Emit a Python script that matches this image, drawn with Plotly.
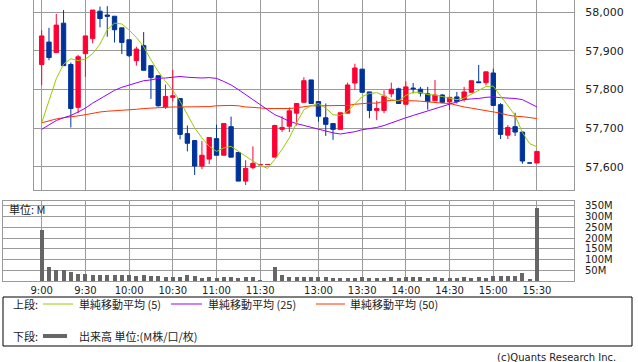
import plotly.graph_objects as go

times = ["9:00","9:05","9:10","9:15","9:20","9:25","9:30","9:35","9:40","9:45",
         "9:50","9:55","10:00","10:05","10:10","10:15","10:20","10:25","10:30","10:35",
         "10:40","10:45","10:50","10:55","11:00","11:05","11:10","11:15","11:20","11:25",
         "11:30","12:25","12:30","12:35","12:40","12:45","12:50","12:55","13:00","13:05",
         "13:10","13:15","13:20","13:25","13:30","13:35","13:40","13:45","13:50","13:55",
         "14:00","14:05","14:10","14:15","14:20","14:25","14:30","14:35","14:40","14:45",
         "14:50","14:55","15:00","15:05","15:10","15:15","15:20","15:25","15:30"]

open_ = [57865,57923,57896,57972,57865,57754,57893,57932,58003,57993,
         57990,57960,57929,57875,57914,57862,57836,57755,57780,57777,
         57686,57668,57602,57620,57673,57630,57704,57637,57563,57598,
         57605,57606,57625,57697,57705,57739,57767,57825,57769,57727,
         57712,57697,57739,57817,57853,57794,57746,57746,57789,57802,
         57762,57804,57801,57789,57771,57786,57768,57781,57775,57793,
         57820,57818,57843,57761,57682,57704,57690,57610,57610]
high = [57954,57960,57996,58006,57870,57890,57939,58006,58015,58016,
        57990,57960,57929,57911,57949,57862,57836,57813,57851,57777,
        57707,57668,57667,57676,57709,57712,57730,57637,57617,57653,
        57606,57606,57709,57731,57754,57764,57832,57825,57769,57764,
        57712,57740,57818,57867,57853,57794,57771,57798,57818,57805,
        57821,57817,57807,57807,57825,57788,57780,57794,57807,57823,
        57864,57846,57854,57765,57708,57740,57691,57610,57640]
low = [57812,57876,57896,57862,57702,57739,57833,57920,57961,57937,
       57922,57892,57884,57862,57850,57776,57756,57750,57770,57671,
       57640,57579,57594,57607,57630,57630,57625,57563,57553,57594,
       57605,57606,57625,57690,57690,57707,57767,57764,57717,57680,
       57670,57697,57739,57800,57793,57726,57721,57739,57780,57764,
       57762,57790,57782,57748,57771,57765,57747,57764,57769,57793,
       57818,57811,57759,57672,57672,57680,57608,57610,57610]
close = [57939,57883,57967,57862,57751,57885,57939,58006,57984,57990,
         57955,57922,57888,57905,57850,57831,57758,57782,57784,57684,
         57661,57602,57630,57676,57630,57712,57625,57563,57596,57609,
         57606,57606,57707,57702,57745,57764,57823,57764,57731,57710,
         57697,57740,57812,57856,57793,57746,57751,57783,57801,57764,
         57807,57802,57791,57769,57786,57767,57780,57769,57794,57823,
         57818,57846,57759,57684,57702,57690,57615,57610,57640]

ma5 = [57714,57770,57828,57866,57880,57875,57879,57893,57918,57955,
       57972,57970,57954,57935,57911,57877,57847,57821,57798,57770,
       57735,57701,57675,57653,57640,57649,57653,57640,57628,57615,
       57604,57596,57619,57645,57675,57714,57748,57758,57764,57752,
       57735,57733,57744,57763,57782,57790,57792,57784,57774,57771,
       57785,57793,57793,57787,57786,57782,57778,57774,57778,57788,
       57797,57808,57809,57784,57759,57733,57689,57660,57652]
ma25 = [57697,57709,57720,57727,57733,57742,57752,57765,57776,57787,
        57798,57806,57812,57817,57823,57825,57829,57830,57832,57834,
        57832,57831,57830,57831,57829,57821,57812,57800,57786,57774,
        57761,57748,57735,57727,57718,57712,57707,57703,57699,57694,
        57688,57685,57688,57691,57696,57699,57702,57707,57714,57720,
        57727,57733,57739,57745,57751,57757,57764,57770,57774,57776,
        57777,57780,57781,57779,57778,57777,57774,57765,57755]
ma50 = [57714,57720,57724,57727,57729,57732,57735,57739,57742,57744,
        57745,57746,57747,57749,57751,57752,57754,57755,57755,57755,
        57755,57755,57755,57756,57758,57759,57759,57758,57755,57754,
        57752,57751,57751,57751,57751,57753,57756,57758,57758,57758,
        57758,57758,57759,57762,57764,57765,57765,57770,57772,57772,
        57771,57771,57770,57768,57767,57765,57764,57759,57755,57752,
        57749,57746,57743,57739,57734,57731,57730,57727,57725]

volume_m = [236,65,50,50,42,33,33,28,28,28,
            28,28,28,24,28,24,24,21,21,21,
            28,24,16,21,16,19,19,16,19,21,
            4,0,65,28,19,19,19,19,19,19,
            15,15,15,15,19,15,15,15,19,15,
            19,19,19,15,19,15,15,15,19,15,
            19,15,24,24,24,24,38,8,341]

time_ticks = ["9:00","9:30","10:00","10:30","11:00","11:30",
              "13:00","13:30","14:00","14:30","15:00","15:30"]
price_ticks = [57600, 57700, 57800, 57900, 58000]
price_labels = ["57,600", "57,700", "57,800", "57,900", "58,000"]
vol_ticks = [50, 100, 150, 200, 250, 300, 350]
vol_labels = ["50M", "100M", "150M", "200M", "250M", "300M", "350M"]

W, H = 638, 362
ML, MR, MT, MB = 3, 64, 0, 81
PW, PH = W - ML - MR, H - MT - MB

def px(x):
    return (x - ML) / PW

def py(y):
    return (PH - (y - MT)) / PH

RED = "#ff0033"
BLUE = "#003399"
GRID = "#9a9a9a"
JP = "Noto Sans CJK JP"

fig = go.Figure()
fig.add_trace(go.Candlestick(
    x=times, open=open_, high=high, low=low, close=close,
    increasing=dict(line=dict(color=RED, width=1), fillcolor=RED),
    decreasing=dict(line=dict(color=BLUE, width=1), fillcolor=BLUE),
    whiskerwidth=0, xaxis="x", yaxis="y", hoverinfo="skip"))
fig.add_trace(go.Scatter(x=times, y=ma50, mode="lines", line=dict(color="#ff3300", width=1),
                         xaxis="x", yaxis="y", hoverinfo="skip"))
fig.add_trace(go.Scatter(x=times, y=ma25, mode="lines", line=dict(color="#9900ff", width=1),
                         xaxis="x", yaxis="y", hoverinfo="skip"))
fig.add_trace(go.Scatter(x=times, y=ma5, mode="lines", line=dict(color="#99cc00", width=1),
                         xaxis="x", yaxis="y", hoverinfo="skip"))
fig.add_trace(go.Bar(x=times, y=volume_m, marker=dict(color="#666666", line=dict(width=0)),
                     width=0.55, xaxis="x2", yaxis="y2", hoverinfo="skip"))

slot_px = 43.7 / 6
x9 = 41.7
main_left = 34
right = W - MR
main_rng = [(main_left - x9) / slot_px, (right - x9) / slot_px]
vol_rng = [(ML - x9) / slot_px, (right - x9) / slot_px]

axis_common = dict(showgrid=True, gridcolor=GRID, gridwidth=1, showline=True,
                   linecolor=GRID, linewidth=1, mirror=True, zeroline=False,
                   fixedrange=True)

fig.update_layout(
    width=W, height=H, margin=dict(l=ML, r=MR, t=MT, b=MB, autoexpand=False),
    paper_bgcolor="white", plot_bgcolor="white", showlegend=False,
    font=dict(family="DejaVu Sans", color="#222222"),
    boxgap=0.4, boxgroupgap=0,
    xaxis=dict(domain=[px(main_left), 1], anchor="y", type="category",
               categoryorder="array", categoryarray=times, range=main_rng,
               tickmode="array", tickvals=time_ticks, showticklabels=False,
               ticks="", rangeslider=dict(visible=False), **axis_common),
    yaxis=dict(domain=[py(190), 1], anchor="x", side="right",
               range=[57540, 58032], tickmode="array", tickvals=price_ticks,
               ticktext=price_labels, ticks="outside", ticklen=8,
               tickcolor="rgba(0,0,0,0)", tickfont=dict(size=11, color="#222222"),
               **axis_common),
    xaxis2=dict(domain=[0, 1], anchor="y2", type="category",
                categoryorder="array", categoryarray=times, range=vol_rng,
                tickmode="array", tickvals=time_ticks, ticktext=time_ticks,
                ticks="", tickfont=dict(size=10, color="#222222"), **axis_common),
    yaxis2=dict(domain=[0, py(201)], anchor="x2", side="right",
                range=[0, 373], tickmode="array", tickvals=vol_ticks,
                ticktext=vol_labels, ticks="outside", ticklen=8,
                tickcolor="rgba(0,0,0,0)", tickfont=dict(size=10, color="#222222"),
                **axis_common),
    bargap=0,
)

shapes = [
    dict(type="rect", xref="paper", yref="paper", x0=px(3), x1=px(632), y0=py(297), y1=py(346),
         line=dict(color="#000000", width=1)),
    dict(type="line", xref="paper", yref="paper", x0=px(43), x1=px(73), y0=py(304), y1=py(304),
         line=dict(color="#99cc00", width=1)),
    dict(type="line", xref="paper", yref="paper", x0=px(171), x1=px(202), y0=py(304), y1=py(304),
         line=dict(color="#9900ff", width=1)),
    dict(type="line", xref="paper", yref="paper", x0=px(316), x1=px(345), y0=py(304), y1=py(304),
         line=dict(color="#ff3300", width=1)),
    dict(type="line", xref="paper", yref="paper", x0=px(43), x1=px(67), y0=py(336), y1=py(336),
         line=dict(color="#666666", width=4)),
]
ann = []
def text(x, y, s, anchor="left", size=11, family=JP):
    ann.append(dict(xref="paper", yref="paper", x=px(x), y=py(y), text=s, showarrow=False,
                    xanchor=anchor, yanchor="middle", font=dict(size=size, family=family, color="#222222")))

text(11, 304, "上段:")
text(77, 304, "単純移動平均 (5)")
text(206, 304, "単純移動平均 (25)")
text(348, 304, "単純移動平均 (50)")
text(11, 336, "下段:")
text(77, 336, "出来高 単位:(M株/口/枚)")
text(7, 209, "単位: M")
text(618, 357, "(c)Quants Research Inc.", anchor="right", size=10, family="DejaVu Sans")

fig.update_layout(shapes=shapes, annotations=ann)
fig.write_html("out.html", config={"displayModeBar": False},
               post_script="document.body.style.margin='0px';")
